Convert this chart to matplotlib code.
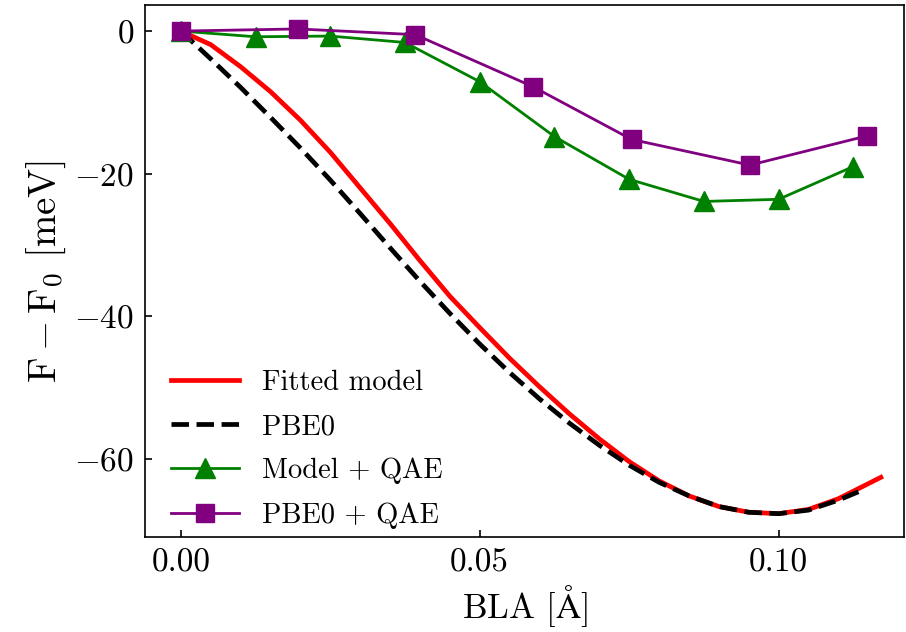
import matplotlib
matplotlib.use("Agg")
import matplotlib.pyplot as plt

plt.rcParams['font.family'] = 'serif'
plt.rcParams['font.serif'] = ['cmr10']
plt.rcParams['mathtext.fontset'] = 'cm'
plt.rcParams['axes.formatter.use_mathtext'] = True
plt.rcParams['axes.unicode_minus'] = True

# fitted model curve (BLA in Angstrom, energy in meV)
bla_fit = [0.0, 0.005, 0.010, 0.015, 0.020, 0.025, 0.030, 0.035, 0.040, 0.045,
           0.050, 0.055, 0.060, 0.065, 0.070, 0.075, 0.080, 0.085, 0.090,
           0.095, 0.100, 0.105, 0.110, 0.1171]
e_fit = [0.0, -1.9, -5.0, -8.5, -12.5, -17.0, -22.0, -27.0, -32.2, -37.2,
         -41.6, -45.9, -49.9, -53.7, -57.2, -60.4, -63.1, -65.2, -66.7,
         -67.5, -67.7, -67.1, -65.6, -62.6]

# PBE0 reference curve
bla_pbe0 = [0.0, 0.005, 0.010, 0.015, 0.020, 0.025, 0.030, 0.035, 0.040, 0.045,
            0.050, 0.055, 0.060, 0.065, 0.070, 0.075, 0.080, 0.085, 0.090,
            0.095, 0.100, 0.105, 0.110, 0.114]
e_pbe0 = [0.0, -3.9, -7.9, -12.1, -16.4, -20.9, -25.6, -30.4, -35.1, -39.6,
          -43.9, -47.9, -51.6, -55.0, -58.1, -60.9, -63.3, -65.2, -66.7,
          -67.5, -67.7, -67.2, -65.8, -64.4]

# QAE results
bla_model_qae = [0.0, 0.0125, 0.025, 0.0375, 0.05, 0.0625, 0.075, 0.0875, 0.1, 0.1125]
e_model_qae = [0.0, -0.8, -0.7, -1.6, -7.1, -14.8, -20.8, -23.9, -23.6, -19.0]

bla_pbe0_qae = [0.0, 0.0196, 0.0392, 0.0589, 0.0754, 0.0952, 0.1148]
e_pbe0_qae = [0.0, 0.3, -0.5, -7.8, -15.2, -18.8, -14.7]

fig = plt.figure(figsize=(9.06, 6.32), dpi=100)
ax = fig.add_axes([0.160, 0.150, 0.838, 0.842])

ax.plot(bla_fit, e_fit, color='red', lw=3.4, label='Fitted model')
ax.plot(bla_pbe0, e_pbe0, color='black', lw=3.4, ls='--', label='PBE0')
ax.plot(bla_model_qae, e_model_qae, color='green', lw=2.0, marker='^',
        markersize=14, label='Model + QAE')
ax.plot(bla_pbe0_qae, e_pbe0_qae, color='purple', lw=2.0, marker='s',
        markersize=12.5, label='PBE0 + QAE')

ax.set_xlim(-0.006, 0.121)
ax.set_ylim(-71.0, 3.65)
ax.set_xticks([0.0, 0.05, 0.10])
ax.set_yticks([0, -20, -40, -60])
ax.set_xticklabels(['0.00', '0.05', '0.10'])
ax.tick_params(direction='in', labelsize=24, length=5, width=1.2, pad=8)
for s in ax.spines.values():
    s.set_linewidth(1.2)

ax.set_xlabel(r'BLA [$\mathrm{\AA}$]', fontsize=25)
ax.set_ylabel(r'$\mathrm{F} - \mathrm{F}_0$ [meV]', fontsize=28)

ax.legend(loc='lower left', bbox_to_anchor=(0.0, -0.032), frameon=False,
          fontsize=20.5, handlelength=2.4, labelspacing=0.62)

fig.savefig('out.png', dpi=100)
